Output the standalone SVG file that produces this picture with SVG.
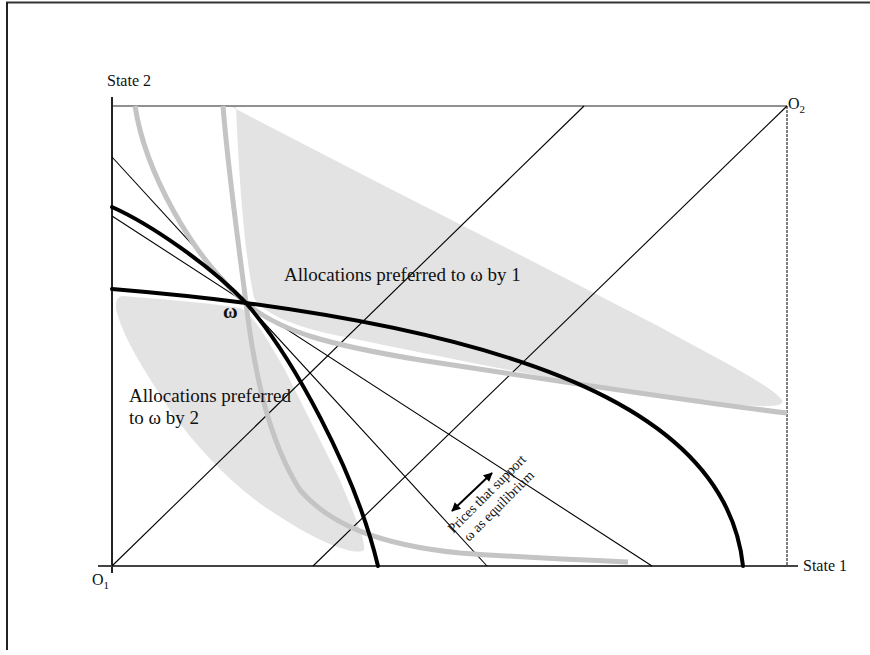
<svg xmlns="http://www.w3.org/2000/svg" width="870" height="655" viewBox="0 0 870 655">
<style>
.t{font-family:"Liberation Serif","Times New Roman",serif;fill:#111}
.thin{stroke:#000;stroke-width:1.1;fill:none}
.blk{stroke:#000;stroke-width:4;fill:none;stroke-linecap:round}
.gry{stroke:#c4c4c4;stroke-width:5;fill:none}
.shade{fill:#e3e3e3;stroke:none}
</style>
<defs>
<marker id="ah" viewBox="0 0 10 10" refX="9" refY="5" markerWidth="11" markerHeight="9" markerUnits="userSpaceOnUse" orient="auto-start-reverse">
<path d="M0,0 L10,5 L0,10 Z" fill="#000"/>
</marker>
</defs>
<rect width="870" height="655" fill="#fff"/>
<g id="frame">
<line x1="6" y1="2.5" x2="870" y2="2.5" stroke="#333" stroke-width="2"/>
<line x1="7" y1="2" x2="7" y2="650" stroke="#222" stroke-width="2"/>
</g>
<g id="regions">
<path id="region1" class="shade" d="M232,107 L373,180 L530,260 L660,327 C720,360 772,386 782,400 C786,408 760,408 700,401 C600,391 420,352 330,334 C290,325 262,312 254,298 C246,260 240,200 236,107 Z"/>
<path id="region2" class="shade" d="M122,296 C160,299 210,303 240,308 C250,312 262,330 285,370 C300,400 320,440 340,480 C352,510 366,540 364,550 C356,556 320,545 262,505 C225,478 195,445 170,410 C145,372 125,340 118,316 C114,305 116,297 122,296 Z"/>
</g>
<g id="axes">
<line x1="112" y1="97" x2="112" y2="573" stroke="#222" stroke-width="2"/>
<line x1="98" y1="566" x2="798" y2="566" stroke="#444" stroke-width="2"/>
<line x1="112" y1="106" x2="787" y2="106" stroke="#222" stroke-width="1"/>
<line x1="787" y1="106" x2="787" y2="566" stroke="#555" stroke-width="1.5" stroke-dasharray="3,1"/>
</g>
<g id="connectors">
<line class="thin" x1="112" y1="566" x2="584" y2="106"/>
<line class="thin" x1="313" y1="566" x2="787" y2="106"/>
<line class="thin" x1="112" y1="157" x2="487" y2="566"/>
<line class="thin" x1="112" y1="216" x2="652" y2="566"/>
<line x1="452" y1="511" x2="492" y2="473" stroke="#000" stroke-width="2" marker-start="url(#ah)" marker-end="url(#ah)"/>
</g>
<g id="curves">
<path id="grayA" class="gry" d="M135,106 C145,170 190,255 246,303 C280,332 330,345 420,360 C550,380 680,400 787,413"/>
<path id="grayB" class="gry" d="M223,106 C228,170 238,240 246,303 C254,370 268,440 300,490 C330,525 380,545 460,553 C530,558 580,560 628,562"/>
<path id="black1" class="blk" d="M112,207 C150,224 210,265 246,303 C292,356 355,470 378,566"/>
<path id="black2" class="blk" d="M112,289 C160,293 200,297 246,303 C560,345 728,425 743,566"/>
</g>
<g id="labels">
<text class="t" x="107" y="86" font-size="16">State 2</text>
<text class="t" x="803" y="571" font-size="16">State 1</text>
<text class="t" x="92" y="585" font-size="16">O<tspan font-size="11" dy="4">1</tspan></text>
<text class="t" x="788" y="109" font-size="16">O<tspan font-size="11" dy="4">2</tspan></text>
<text class="t" x="223" y="318" font-size="20" font-weight="bold">ω</text>
<text class="t" x="284" y="281" font-size="19">Allocations preferred to ω by 1</text>
<text class="t" x="129" y="402" font-size="19">Allocations preferred</text>
<text class="t" x="129" y="424" font-size="19">to ω by 2</text>
<g transform="translate(490,497) rotate(-45)">
<text class="t" x="0" y="0" font-size="14" text-anchor="middle">Prices that support</text>
<text class="t" x="0" y="17" font-size="14" text-anchor="middle">ω as equilibrium</text>
</g>
</g>
</svg>
